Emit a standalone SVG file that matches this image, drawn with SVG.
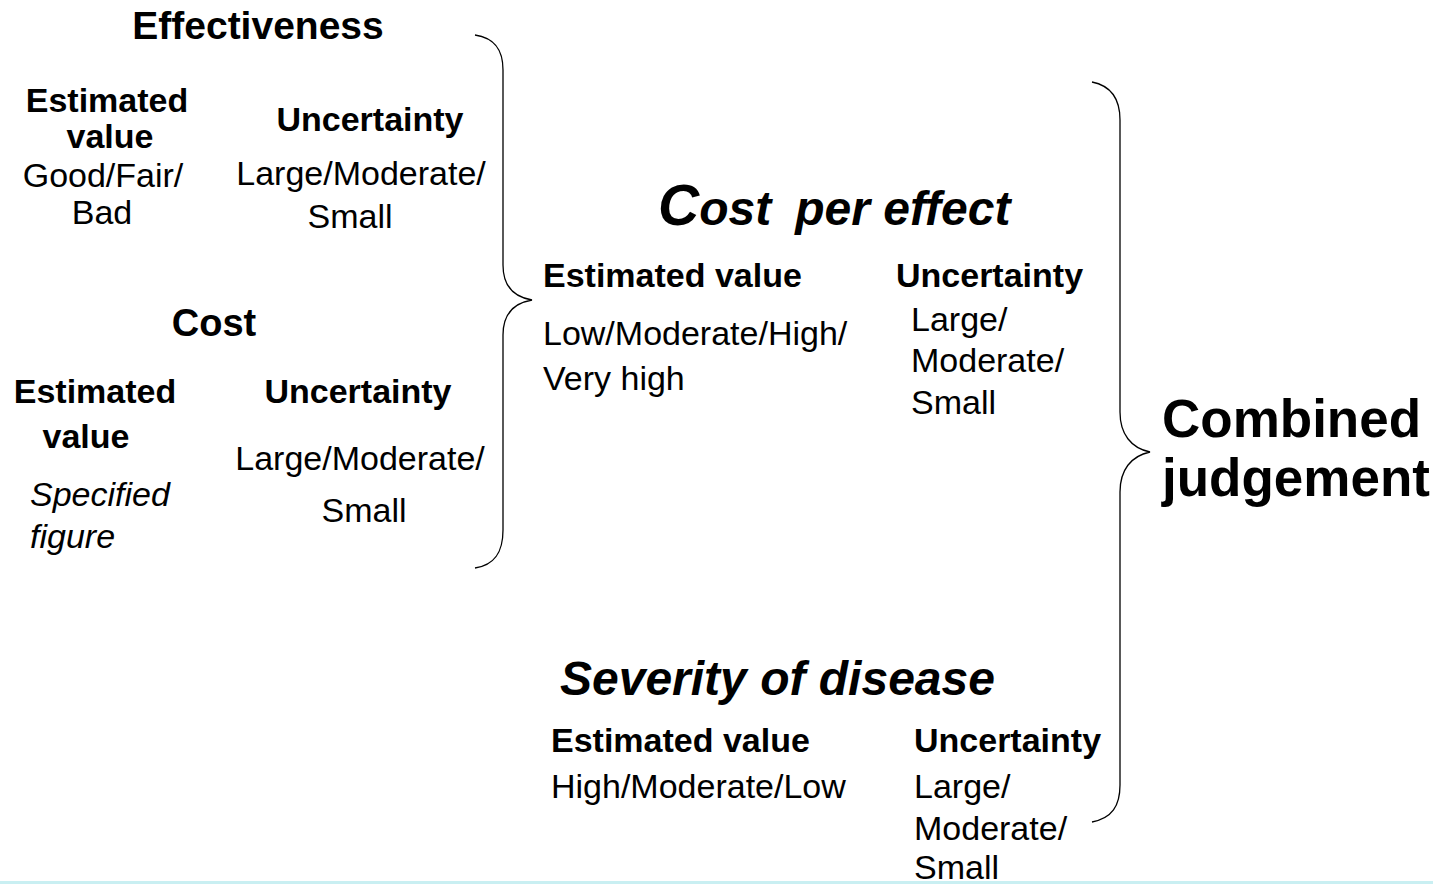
<svg xmlns="http://www.w3.org/2000/svg" width="1433" height="884" viewBox="0 0 1433 884">
<style>
text{font-family:"Liberation Sans",Arial,sans-serif;fill:#000;font-size:34px}
.b{font-weight:bold}
.i{font-style:italic}
.m{text-anchor:middle}
.brace{fill:none;stroke:#000;stroke-width:1.3}
</style>
<rect x="0" y="0" width="1433" height="884" fill="#fff"/>
<rect x="0" y="881" width="1433" height="3" fill="#c9eff2"/>
<g id="effectiveness">
<text class="b m" x="258" y="39" style="font-size:39px">Effectiveness</text>
<text class="b m" x="107" y="112">Estimated</text>
<text class="b m" x="110" y="148">value</text>
<text class="m" x="103" y="187">Good/Fair/</text>
<text class="m" x="102" y="224">Bad</text>
<text class="b m" x="370" y="131">Uncertainty</text>
<text class="m" x="361" y="185">Large/Moderate/</text>
<text class="m" x="350" y="228">Small</text>
</g>
<g id="cost">
<text class="b m" x="214" y="336" style="font-size:38px">Cost</text>
<text class="b m" x="95" y="403">Estimated</text>
<text class="b m" x="86" y="448">value</text>
<text class="i" x="30" y="506">Specified</text>
<text class="i" x="30" y="548">figure</text>
<text class="b m" x="358" y="403">Uncertainty</text>
<text class="m" x="360" y="470">Large/Moderate/</text>
<text class="m" x="364" y="522">Small</text>
</g>
<g id="cost-per-effect">
<text class="b i" x="658" y="225"><tspan style="font-size:57px">C</tspan><tspan style="font-size:48px">ost</tspan><tspan style="font-size:48px" dx="24">per effect</tspan></text>
<text class="b" x="543" y="287">Estimated value</text>
<text class="b" x="896" y="287">Uncertainty</text>
<text x="543" y="345">Low/Moderate/High/</text>
<text x="543" y="390">Very high</text>
<text x="911" y="331">Large/</text>
<text x="911" y="372">Moderate/</text>
<text x="911" y="414">Small</text>
</g>
<g id="severity">
<text class="b i" x="560" y="695" style="font-size:48px">Severity of disease</text>
<text class="b" x="551" y="752">Estimated value</text>
<text class="b" x="914" y="752">Uncertainty</text>
<text x="551" y="798">High/Moderate/Low</text>
<text x="914" y="798">Large/</text>
<text x="914" y="840">Moderate/</text>
<text x="914" y="879">Small</text>
</g>
<g id="combined">
<text class="b" x="1162" y="437" style="font-size:53px">Combined</text>
<text class="b" x="1162" y="496" style="font-size:53px">judgement</text>
</g>
<g id="connectors">
<path class="brace" d="M475,35 C495,38 503,50 503,70 L503,265 C503,286 514,297 532,300 C514,303 503,314 503,335 L503,530 C503,552 495,565 475,568"/>
<path class="brace" d="M1092,82 C1112,86 1120,100 1120,120 L1120,412 C1120,434 1131,448 1150,452 C1131,456 1120,470 1120,492 L1120,785 C1120,806 1112,818 1092,822"/>
</g>
</svg>
